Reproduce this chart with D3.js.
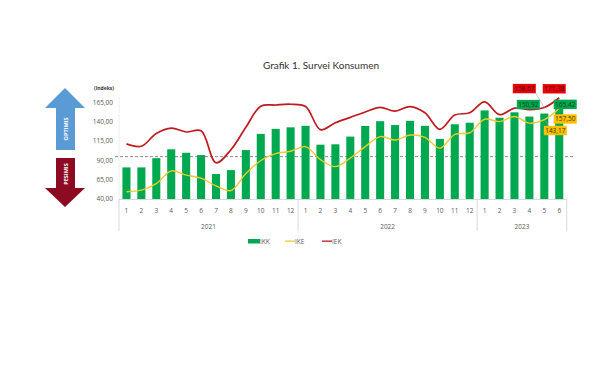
<!DOCTYPE html>
<html>
<head>
<meta charset="utf-8">
<script src="https://cdn.jsdelivr.net/npm/d3@7"></script>
<style>
  body { margin: 0; background: #fff; }
  text { font-family: "Open Sans", sans-serif; }
</style>
</head>
<body>
<div id="viz"></div>
<script>
// bulan & tahun
var months = [1,2,3,4,5,6,7,8,9,10,11,12, 1,2,3,4,5,6,7,8,9,10,11,12, 1,2,3,4,5,6];
var years = ['2021', '2022', '2023'];
var yearCounts = [12, 12, 6];

// indeks
var ikk = [81, 81, 93, 104.5, 100, 97, 72.5, 77.5, 103.5, 124.5, 131, 133,
           135, 110.5, 111, 121, 134.8, 141, 136, 141.5, 135, 118, 137, 139,
           155, 145.5, 152.5, 147, 150.92, 165.42];
var ike = [49.5, 51.5, 60, 76.5, 71, 67, 57, 51, 73, 90, 99, 102,
           108, 91, 82, 93, 108, 121, 116.5, 123, 120, 106, 124, 126,
           143.5, 140.5, 147, 138.5, 143.17, 157.5];
var iek = [111.5, 108.5, 125, 132, 127, 128.5, 87, 104, 133, 160.5, 162, 163,
           160, 130, 139, 146, 153, 159, 154, 160, 152, 130.5, 149, 152,
           166, 149.5, 158, 156, 158.67, 171.38];

var yTicks = [40, 65, 90, 115, 140, 165];
var threshold = 95;

// label di ujung
var labels = [
  {i: 28, series: 'iek', text: '158,67', dx: -20, dy: -19},
  {i: 29, series: 'iek', text: '171,38', dx: -5,  dy: -9},
  {i: 28, series: 'ikk', text: '150,92', dx: -16, dy: -9},
  {i: 29, series: 'ikk', text: '165,42', dx: 6,   dy: 2},
  {i: 29, series: 'ike', text: '157,50', dx: 6,   dy: 10.5},
  {i: 28, series: 'ike', text: '143,17', dx: 11,  dy: 11}
];

var width = 600, height = 375;
var green = '#00a84f', yellow = '#e6cc2e', red = '#c01a1f', axisGrey = '#d9d9d9', txt = '#595959';

var svg = d3.select('#viz').append('svg')
  .attr('width', width)
  .attr('height', height);

var xScale = d3.scaleBand()
  .domain(d3.range(months.length))
  .range([119, 566.7])
  .paddingInner(0.46)
  .paddingOuter(0.23);

var yScale = d3.scaleLinear()
  .domain([40, 165])
  .range([199, 102.7]);

function cx(i) { return xScale(i) + xScale.bandwidth() / 2; }
var fmt = function(v) { return d3.format('.2f')(v).replace('.', ','); };

// judul
svg.append('text')
  .attr('x', 321).attr('y', 68.5)
  .attr('text-anchor', 'middle')
  .style('font-family', 'Lato, sans-serif')
  .style('font-size', '10px')
  .style('fill', '#333')
  .text('Grafik 1.  Survei Konsumen');

// panah optimis / pesimis
var arrows = [
  {label: 'OPTIMIS', color: '#5b9bd5', pts: [[65,88],[85,108],[75,108],[75,150],[56,150],[56,108],[45,108]], ty: 129},
  {label: 'PESIMIS', color: '#8c0b22', pts: [[56,158],[75,158],[75,188],[85,188],[65,207],[45,188],[56,188]], ty: 174}
];
svg.selectAll('.arrow').data(arrows).enter().append('path')
  .attr('d', function(d){ return 'M' + d.pts.join('L') + 'Z'; })
  .attr('fill', function(d){ return d.color; });
svg.selectAll('.arrowtxt').data(arrows).enter().append('text')
  .attr('transform', function(d){ return 'translate(66.5,' + d.ty + ') rotate(-90)'; })
  .attr('text-anchor', 'middle')
  .attr('dy', '0.35em')
  .style('font-size', '5.5px')
  .style('font-weight', 'bold')
  .style('fill', '#fff')
  .text(function(d){ return d.label; });

// sumbu y
svg.append('text')
  .attr('x', 114).attr('y', 90)
  .attr('text-anchor', 'end')
  .style('font-size', '5px')
  .style('font-weight', 'bold')
  .style('fill', '#333')
  .text('(Indeks)');

svg.selectAll('.ytick').data(yTicks).enter().append('text')
  .attr('x', 113)
  .attr('y', function(d){ return yScale(d); })
  .attr('dy', '0.35em')
  .attr('text-anchor', 'end')
  .style('font-size', '6.5px')
  .style('fill', txt)
  .text(fmt);

svg.append('line')
  .attr('x1', 119).attr('x2', 119)
  .attr('y1', 97).attr('y2', yScale(40))
  .attr('stroke', '#eeeeee');

// garis batas
svg.append('line')
  .attr('x1', 115).attr('x2', 575)
  .attr('y1', yScale(threshold)).attr('y2', yScale(threshold))
  .attr('stroke', '#7f7f7f')
  .attr('stroke-width', 0.9)
  .attr('stroke-dasharray', '3,2');

// batang IKK
svg.selectAll('.bar').data(ikk).enter().append('rect')
  .attr('x', function(d, i){ return xScale(i); })
  .attr('y', function(d){ return yScale(d); })
  .attr('width', xScale.bandwidth())
  .attr('height', function(d){ return yScale(40) - yScale(d); })
  .attr('fill', green);

// garis IKE & IEK
var line = d3.line()
  .x(function(d, i){ return cx(i); })
  .y(function(d){ return yScale(d); })
  .curve(d3.curveCatmullRom.alpha(0.5));

svg.append('path').datum(ike)
  .attr('d', line).attr('fill', 'none')
  .attr('stroke', yellow).attr('stroke-width', 1.4);
svg.append('path').datum(iek)
  .attr('d', line).attr('fill', 'none')
  .attr('stroke', red).attr('stroke-width', 1.7);

// sumbu x
svg.append('line')
  .attr('x1', 119).attr('x2', 566.7)
  .attr('y1', yScale(40) + 0.5).attr('y2', yScale(40) + 0.5)
  .attr('stroke', axisGrey);

svg.selectAll('.mtick').data(months).enter().append('text')
  .attr('x', function(d, i){ return cx(i); })
  .attr('y', 212.5)
  .attr('text-anchor', 'middle')
  .style('font-size', '6.5px')
  .style('fill', txt)
  .text(function(d){ return d; });

var starts = [0];
yearCounts.forEach(function(c, k){ starts.push(starts[k] + c); });
var step = xScale.step();
var x0 = xScale.range()[0] + xScale.paddingOuter() * step - (step * xScale.paddingInner()) / 2;
function edge(k) { return k === 0 ? 119 : (k === months.length ? 566.7 : xScale(k) - step * xScale.paddingInner() / 2); }

svg.selectAll('.sep').data(starts).enter().append('line')
  .attr('x1', function(d){ return edge(d); })
  .attr('x2', function(d){ return edge(d); })
  .attr('y1', yScale(40)).attr('y2', 231)
  .attr('stroke', axisGrey);

svg.selectAll('.year').data(years).enter().append('text')
  .attr('x', function(d, k){ return (edge(starts[k]) + edge(starts[k + 1])) / 2; })
  .attr('y', 228.5)
  .attr('text-anchor', 'middle')
  .style('font-size', '6.5px')
  .style('fill', txt)
  .text(function(d){ return d; });

// legenda
var legend = [
  {name: 'IKK', color: green, x: 248, type: 'box'},
  {name: 'IKE', color: yellow, x: 285, type: 'line'},
  {name: 'IEK', color: red, x: 322, type: 'line'}
];
var lg = svg.selectAll('.lg').data(legend).enter().append('g');
lg.append('rect')
  .attr('x', function(d){ return d.x; })
  .attr('y', function(d){ return d.type === 'box' ? 239 : 240.5; })
  .attr('width', function(d){ return d.type === 'box' ? 12 : 10; })
  .attr('height', function(d){ return d.type === 'box' ? 4.5 : 1.3; })
  .attr('fill', function(d){ return d.color; });
lg.append('text')
  .attr('x', function(d){ return d.x + (d.type === 'box' ? 12 : 10); })
  .attr('y', 241.3)
  .attr('dy', '0.35em')
  .style('font-size', '6.5px')
  .style('fill', txt)
  .text(function(d){ return d.name; });

// label nilai
var seriesData = {ikk: ikk, ike: ike, iek: iek};
var boxColor = {ikk: green, ike: '#ffc000', iek: '#e8000b'};
var boxText = {ikk: '#0b3d1e', ike: '#3d2e00', iek: '#4a0000'};

svg.selectAll('.leader').data(labels.filter(function(d){ return d.dy < -10 || d.dx > 10; }))
  .enter().append('line')
  .attr('x1', function(d){ return cx(d.i) + d.dx + (d.dx < 0 ? 11 : -6); })
  .attr('y1', function(d){ return yScale(seriesData[d.series][d.i]) + d.dy + (d.dy < 0 ? 4 : -4); })
  .attr('x2', function(d){ return cx(d.i); })
  .attr('y2', function(d){ return yScale(seriesData[d.series][d.i]); })
  .attr('stroke', '#a6a6a6').attr('stroke-width', 0.6);

var lb = svg.selectAll('.lb').data(labels).enter().append('g')
  .attr('transform', function(d){
    return 'translate(' + (cx(d.i) + d.dx) + ',' + (yScale(seriesData[d.series][d.i]) + d.dy) + ')';
  });
lb.append('rect')
  .attr('x', -11.5).attr('y', -4.7)
  .attr('width', 23).attr('height', 9.4)
  .attr('fill', function(d){ return boxColor[d.series]; });
lb.append('text')
  .attr('text-anchor', 'middle')
  .attr('dy', '0.35em')
  .style('font-size', '6.5px')
  .style('fill', function(d){ return boxText[d.series]; })
  .text(function(d){ return d.text; });
</script>
</body>
</html>
